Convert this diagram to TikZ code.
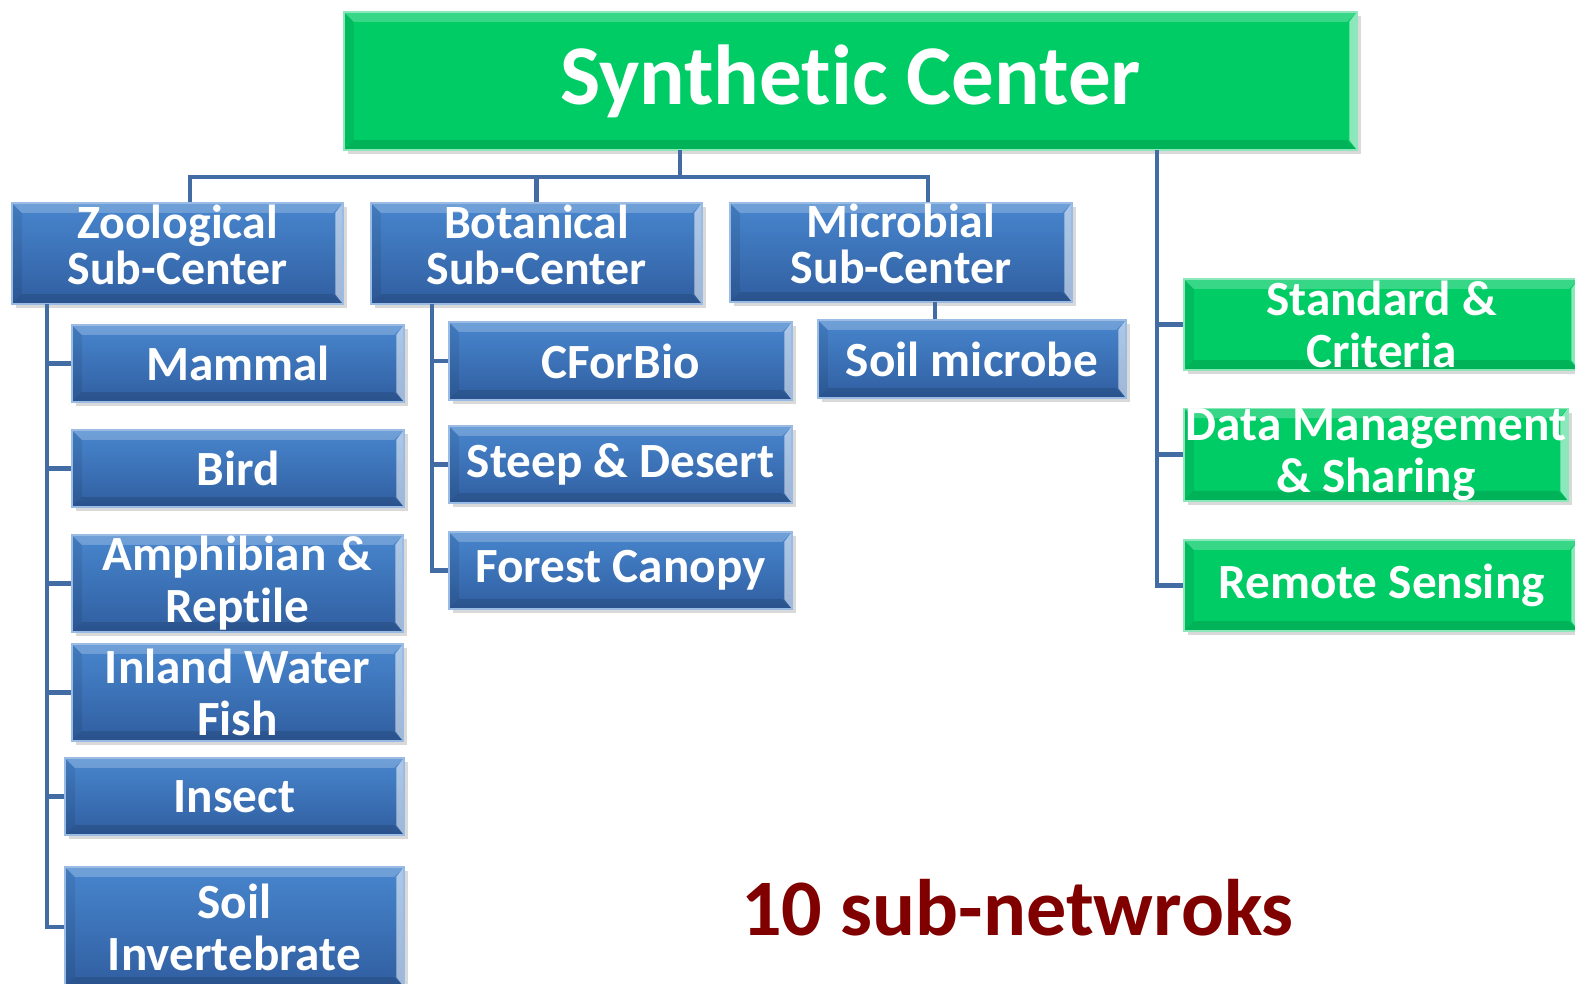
\documentclass[tikz,border=0pt]{standalone}
\usepackage{fontspec}
\setmainfont{Carlito}[Ligatures=NoCommon]
\usetikzlibrary{shadows}
\definecolor{hubgreen}{RGB}{0,204,102}
\definecolor{boxtop}{RGB}{72,134,206}
\definecolor{boxbot}{RGB}{48,94,160}
\definecolor{linkblue}{RGB}{68,108,164}
\definecolor{darkred}{RGB}{128,0,0}
\tikzset{
  bevel/.style={path picture={
    \fill[white, opacity=0.22] (path picture bounding box.north west) -- (path picture bounding box.north east)
      -- ([xshift=-2.8pt,yshift=-2.8pt]path picture bounding box.north east) -- ([xshift=2.8pt,yshift=-2.8pt]path picture bounding box.north west) -- cycle;
    \fill[white, opacity=0.55] (path picture bounding box.north east) -- (path picture bounding box.south east)
      -- ([xshift=-2.2pt,yshift=2.8pt]path picture bounding box.south east) -- ([xshift=-2.2pt,yshift=-2.8pt]path picture bounding box.north east) -- cycle;
    \fill[black, opacity=0.12] (path picture bounding box.south west) -- (path picture bounding box.south east)
      -- ([xshift=-2.8pt,yshift=2.8pt]path picture bounding box.south east) -- ([xshift=2.8pt,yshift=2.8pt]path picture bounding box.south west) -- cycle;
    \fill[black, opacity=0.08] (path picture bounding box.north west) -- (path picture bounding box.south west)
      -- ([xshift=2.8pt,yshift=2.8pt]path picture bounding box.south west) -- ([xshift=2.8pt,yshift=-2.8pt]path picture bounding box.north west) -- cycle;
  }},
  box/.style={rectangle, top color=boxtop, bottom color=boxbot, draw=boxtop!55!white, line width=0.5pt,
    text=white, font=\bfseries\fontsize{14}{14.8}\selectfont, align=center, inner sep=0pt, bevel,
    drop shadow={shadow xshift=1.2pt, shadow yshift=-1.2pt, opacity=0.3}},
  subbox/.style={box, font=\bfseries\fontsize{13.6}{13.1}\selectfont},
  gbox/.style={box, top color=hubgreen, bottom color=hubgreen, draw=hubgreen!45!white},
  link/.style={draw=linkblue, line width=1.4pt},
}

\begin{document}
\begin{tikzpicture}
\path[use as bounding box, clip] (0,0) rectangle (15.75,-9.83);

\node[gbox, minimum width=10.13cm, minimum height=1.38cm, font=\bfseries\fontsize{24.2}{28}\selectfont] (syn) at (8.505,-0.81) {Synthetic Center};

\node[subbox, minimum width=3.31cm, minimum height=1.01cm] (zoo) at (1.775,-2.535) {Zoological\\Sub-Center\\[-8pt]\mbox{}};
\node[subbox, minimum width=3.31cm, minimum height=1.01cm] (bot) at (5.365,-2.535) {Botanical\\Sub-Center\\[-8pt]\mbox{}};
\node[subbox, minimum width=3.42cm, minimum height=0.99cm] (mic) at (9.01,-2.525) {Microbial\\Sub-Center\\[-8pt]\mbox{}};

\node[box, minimum width=3.32cm, minimum height=0.77cm] (mam) at (2.38,-3.635) {Mammal};
\node[box, minimum width=3.32cm, minimum height=0.77cm] (bird) at (2.38,-4.685) {Bird};
\node[box, minimum width=3.31cm, minimum height=0.97cm] (amph) at (2.375,-5.835) {Amphibian \&\\Reptile};
\node[box, minimum width=3.31cm, minimum height=0.97cm] (fish) at (2.375,-6.925) {Inland Water\\Fish};
\node[box, minimum width=3.39cm, minimum height=0.77cm] (insect) at (2.345,-7.965) {Insect};
\node[box, minimum width=3.39cm, minimum height=1.20cm] (soilinv) at (2.345,-9.27) {Soil\\Invertebrate};

\node[box, minimum width=3.43cm, minimum height=0.78cm] (cfor) at (6.205,-3.61) {CForBio};
\node[box, minimum width=3.43cm, minimum height=0.77cm] (steep) at (6.205,-4.645) {Steep \& Desert};
\node[box, minimum width=3.43cm, minimum height=0.77cm] (forest) at (6.205,-5.705) {Forest Canopy};

\node[box, minimum width=3.08cm, minimum height=0.78cm] (smic) at (9.72,-3.59) {Soil microbe};

\node[gbox, minimum width=3.95cm, minimum height=0.91cm] (std) at (13.815,-3.245) {Standard \&\\Criteria};
\node[gbox, minimum width=3.84cm, minimum height=0.91cm] (dm) at (13.76,-4.545) {Data Management\\\& Sharing};
\node[gbox, minimum width=3.95cm, minimum height=0.91cm] (rs) at (13.815,-5.855) {Remote Sensing};

\node[anchor=base, text=darkred, font=\bfseries\fontsize{22.8}{26}\selectfont] (note) at (10.175,-9.35) {10 sub-netwroks};

% connectors
\coordinate (synA) at (6.80,-1.50);
\coordinate (synB) at (11.57,-1.50);
\coordinate (bus) at (6.80,-1.77);
\coordinate (zooT) at (0.47,-3.04);
\coordinate (botT) at (4.32,-3.04);
\coordinate (micT) at (9.35,-3.02);

\draw[link] (synA) -- (bus);
\draw[link] (bus) -| ([xshift=0.125cm]zoo.north);
\draw[link] (bus) -| (bot.north);
\draw[link] (bus) -| ([xshift=0.27cm]mic.north);

\draw[link] (zooT) |- (mam.west);
\draw[link] (zooT) |- (bird.west);
\draw[link] (zooT) |- (amph.west);
\draw[link] (zooT) |- (fish.west);
\draw[link] (zooT) |- (insect.west);
\draw[link] (zooT) |- (soilinv.west);

\draw[link] (botT) |- (cfor.west);
\draw[link] (botT) |- (steep.west);
\draw[link] (botT) |- (forest.west);

\draw[link] (micT) -- (micT |- smic.north);

\draw[link] (synB) |- (std.west);
\draw[link] (synB) |- (dm.west);
\draw[link] (synB) |- (rs.west);
\end{tikzpicture}
\end{document}
